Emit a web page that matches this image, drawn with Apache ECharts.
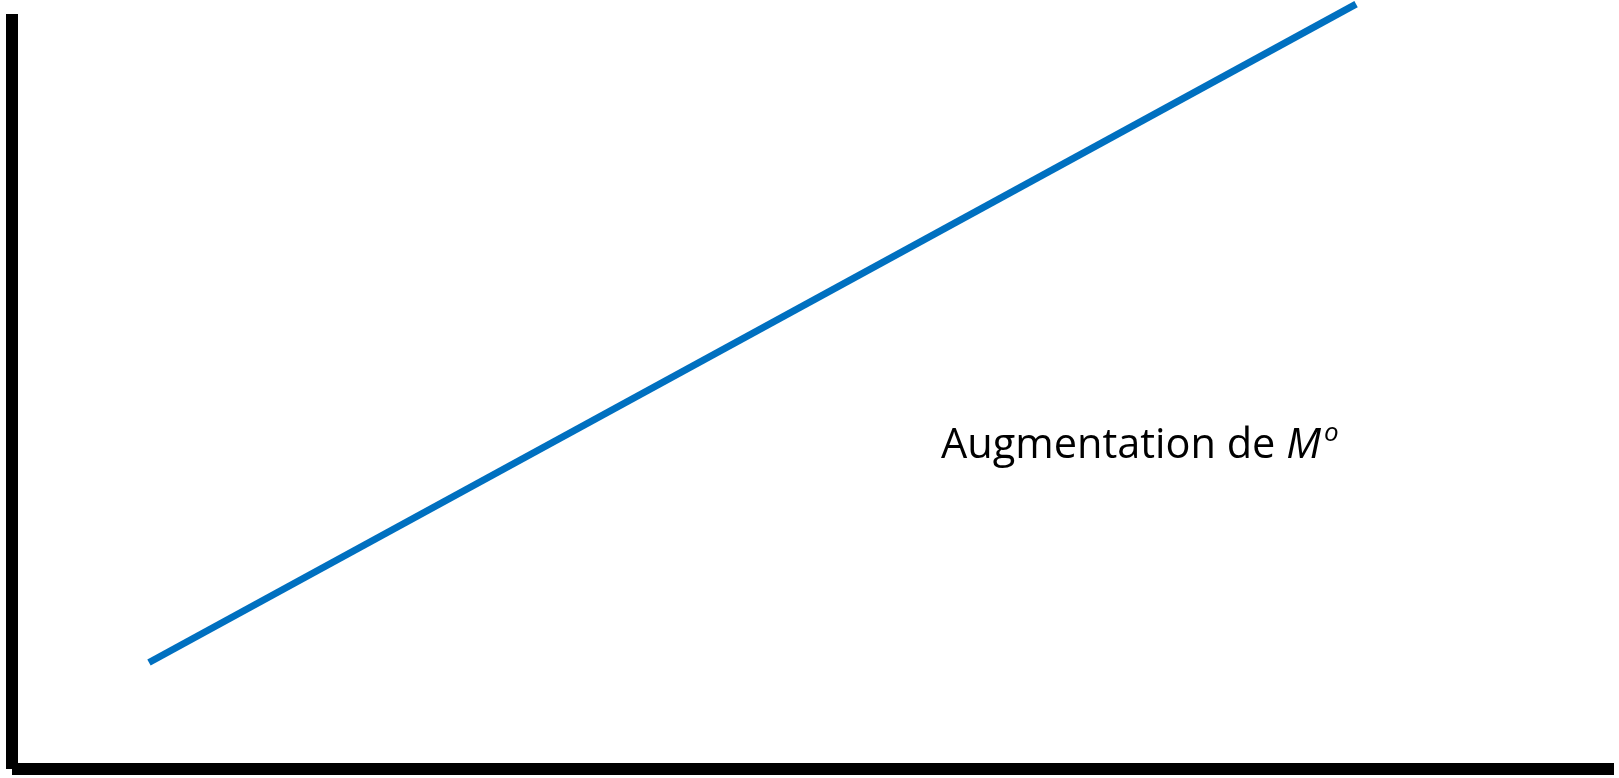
<!DOCTYPE html>
<html>
<head>
<meta charset="utf-8">
<script src="https://cdn.jsdelivr.net/npm/echarts@6/dist/echarts.min.js"></script>
<style>
  html, body { margin: 0; padding: 0; background: #fff; }
  #chart { width: 1619px; height: 778px; }
</style>
</head>
<body>
<div id="chart"></div>
<script>
// line endpoints (axis units 0..100)
const xValues = [8.55, 83.9]
const yValues = [14.1, 101.3]
const labelText = 'Augmentation de '

const chart = echarts.init(document.getElementById('chart'))

const option = {
  animation: false,
  grid: { left: 12, right: 5, top: 14, bottom: 9 },
  xAxis: {
    type: 'value',
    min: 0,
    max: 100,
    axisLine: { show: true, lineStyle: { color: '#000', width: 12, cap: 'butt' } },
    axisTick: { show: false },
    axisLabel: { show: false },
    splitLine: { show: false }
  },
  yAxis: {
    type: 'value',
    min: 0,
    max: 100,
    axisLine: { show: true, lineStyle: { color: '#000', width: 12, cap: 'butt' } },
    axisTick: { show: false },
    axisLabel: { show: false },
    splitLine: { show: false }
  },
  series: [
    {
      type: 'line',
      clip: false,
      symbol: 'none',
      data: xValues.map((x, i) => [x, yValues[i]]),
      lineStyle: { color: '#0070C0', width: 7, cap: 'butt' }
    }
  ],
  graphic: [
    {
      type: 'text',
      left: 941,
      top: 421,
      style: {
        text: '{a|' + labelText + '}{m|M}{s|o}',
        rich: {
          a: { fontFamily: 'Open Sans', fontSize: 41.5, fill: '#000' },
          m: { fontFamily: 'Open Sans', fontSize: 41.5, fontStyle: 'italic', fill: '#000' },
          s: { fontFamily: 'Open Sans', fontSize: 26, fontStyle: 'italic', fill: '#000', padding: [0, 0, 24, 3] }
        }
      }
    }
  ]
}

chart.setOption(option)
</script>
</body>
</html>
